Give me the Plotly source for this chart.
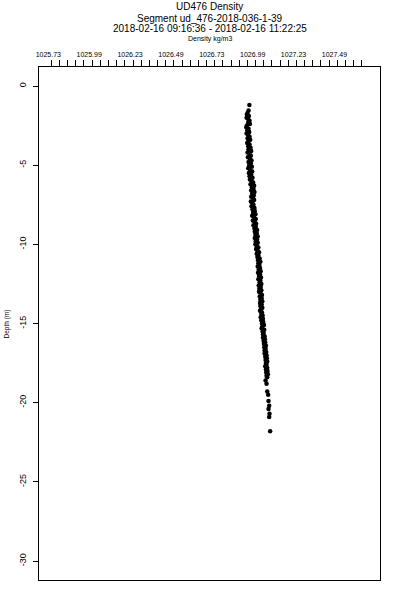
import plotly.graph_objects as go

# ---- data ----
depth = [
    -1.2, -1.55, -1.7,
    -1.8, -1.9, -2.0, -2.1, -2.2, -2.3, -2.4, -2.5, -2.6, -2.7,
    -2.8, -2.9, -3.0, -3.1, -3.2, -3.3, -3.4, -3.5, -3.6, -3.7,
    -3.8, -3.9, -4.0, -4.1, -4.2, -4.3, -4.4, -4.5, -4.6, -4.7,
    -4.8, -4.9, -5.0, -5.1, -5.2, -5.3, -5.4, -5.5, -5.6, -5.7,
    -5.8, -5.9, -6.0, -6.1, -6.2, -6.3, -6.4, -6.5, -6.6, -6.7,
    -6.8, -6.9, -7.0, -7.1, -7.2, -7.3, -7.4, -7.5, -7.6, -7.7,
    -7.8, -7.9, -8.0, -8.1, -8.2, -8.3, -8.4, -8.5, -8.6, -8.7,
    -8.8, -8.9, -9.0, -9.1, -9.2, -9.3, -9.4, -9.5, -9.6, -9.7,
    -9.8, -9.9, -10.0, -10.1, -10.2, -10.3, -10.4, -10.5, -10.6, -10.7,
    -10.8, -10.9, -11.0, -11.1, -11.2, -11.3, -11.4, -11.5, -11.6, -11.7,
    -11.8, -11.9, -12.0, -12.1, -12.2, -12.3, -12.4, -12.5, -12.6, -12.7,
    -12.8, -12.9, -13.0, -13.1, -13.2, -13.3, -13.4, -13.5, -13.6, -13.7,
    -13.8, -13.9, -14.0, -14.1, -14.2, -14.3, -14.4, -14.5, -14.6, -14.7,
    -14.8, -14.9, -15.0, -15.1, -15.2, -15.3, -15.4, -15.5, -15.6, -15.7,
    -15.8, -15.9, -16.0, -16.1, -16.2, -16.3, -16.4, -16.5, -16.6, -16.7,
    -16.8, -16.9, -17.0, -17.1, -17.2, -17.3, -17.4, -17.5, -17.6, -17.7,
    -17.8, -17.9, -18.0, -18.1, -18.2, -18.3, -18.4,
    -18.6, -18.8, -19.3, -19.5, -19.9, -20.2, -20.4, -20.7, -20.9, -21.8,
]

density = [
    1026.965, 1026.960, 1026.954,
    1026.950, 1026.962, 1026.948, 1026.958, 1026.966, 1026.958, 1026.968, 1026.950, 1026.946, 1026.960,
    1026.952, 1026.964, 1026.948, 1026.958, 1026.966, 1026.954, 1026.970, 1026.958, 1026.952, 1026.966,
    1026.958, 1026.972, 1026.960, 1026.976, 1026.954, 1026.966, 1026.974, 1026.956, 1026.968, 1026.978,
    1026.960, 1026.974, 1026.964, 1026.980, 1026.958, 1026.970, 1026.982, 1026.962, 1026.976, 1026.966,
    1026.984, 1026.968, 1026.978, 1026.988, 1026.972, 1026.994, 1026.980, 1026.990, 1026.976, 1026.996,
    1026.982, 1026.992, 1026.976, 1026.988, 1026.994, 1026.974, 1026.984, 1026.990, 1026.978, 1026.996,
    1026.984, 1026.998, 1026.988, 1027.002, 1026.982, 1026.994, 1027.004, 1026.986, 1026.998, 1027.006,
    1026.990, 1027.004, 1026.996, 1027.012, 1026.998, 1027.010, 1027.002, 1027.016, 1026.998, 1027.012,
    1027.004, 1027.016, 1027.002, 1027.010, 1027.020, 1027.006, 1027.014, 1027.024, 1027.010, 1027.020,
    1027.014, 1027.028, 1027.018, 1027.032, 1027.020, 1027.026, 1027.016, 1027.030, 1027.022, 1027.034,
    1027.018, 1027.030, 1027.024, 1027.036, 1027.020, 1027.032, 1027.028, 1027.038, 1027.022, 1027.034,
    1027.026, 1027.038, 1027.024, 1027.034, 1027.042, 1027.028, 1027.040, 1027.032, 1027.044, 1027.030,
    1027.040, 1027.032, 1027.044, 1027.036, 1027.030, 1027.042, 1027.038, 1027.046, 1027.034, 1027.048,
    1027.038, 1027.050, 1027.042, 1027.054, 1027.044, 1027.040, 1027.056, 1027.046, 1027.052, 1027.048,
    1027.058, 1027.048, 1027.060, 1027.052, 1027.062, 1027.054, 1027.066, 1027.056, 1027.064, 1027.058,
    1027.068, 1027.058, 1027.070, 1027.062, 1027.072, 1027.064, 1027.074, 1027.066, 1027.070, 1027.062,
    1027.074, 1027.066, 1027.076, 1027.068, 1027.078, 1027.070, 1027.074,
    1027.064, 1027.070, 1027.074, 1027.080, 1027.082, 1027.086, 1027.082, 1027.088, 1027.086, 1027.092,
]

x_tick_vals = [1025.735, 1025.985, 1026.235, 1026.485, 1026.735, 1026.985, 1027.235, 1027.485]
x_tick_text = ["1025.73", "1025.99", "1026.23", "1026.49", "1026.73", "1026.99", "1027.23", "1027.49"]
y_tick_vals = [0, -5, -10, -15, -20, -25, -30]
y_tick_text = ["0", "-5", "-10", "-15", "-20", "-25", "-30"]

title_lines = [
    "UD476 Density",
    "Segment ud_476-2018-036-1-39",
    "2018-02-16 09:16:36 - 2018-02-16 11:22:25",
]
x_title = "Density kg/m3"
y_title = "Depth (m)"

minor_ticks = [round(1025.753 + 0.05 * k, 4) for k in range(39)]

FONT = "Liberation Sans, Arial, Helvetica, sans-serif"

fig = go.Figure()
fig.add_trace(go.Scatter(
    x=density, y=depth, mode="markers",
    marker=dict(color="black", size=4.5, line=dict(width=0)),
    showlegend=False, hoverinfo="skip",
))

fig.update_layout(
    width=400, height=600,
    margin=dict(l=39, r=20, t=67, b=20, pad=0, autoexpand=False),
    paper_bgcolor="white", plot_bgcolor="white",
    font=dict(family=FONT, color="black", size=7),
    xaxis=dict(
        side="top", range=[1025.678, 1027.764], automargin=False,
        showline=True, linecolor="black", linewidth=1, mirror=True,
        showgrid=False, zeroline=False,
        tickmode="array", tickvals=x_tick_vals, ticktext=x_tick_text,
        ticks="outside", ticklen=6, tickcolor="rgba(0,0,0,0)",
        tickfont=dict(size=7, family=FONT, color="black"),
        minor=dict(tickmode="array", tickvals=minor_ticks, ticks="outside",
                   ticklen=6, tickwidth=1, tickcolor="black", showgrid=False),
    ),
    yaxis=dict(
        range=[-31.2, 1.2], automargin=False,
        showline=True, linecolor="black", linewidth=1, mirror=True,
        showgrid=False, zeroline=False,
        tickmode="array", tickvals=y_tick_vals, ticktext=y_tick_text,
        ticks="outside", ticklen=5, tickcolor="black", tickwidth=1,
        tickangle=-90, ticklabelstandoff=3,
        tickfont=dict(size=9, family=FONT, color="black"),
    ),
)

# paper coords: y=1 at 67 px, y=0 at 580 px (513 px tall)
title_y = [1.1179, 1.0955, 1.0741]
for txt, yy in zip(title_lines, title_y):
    fig.add_annotation(text=txt, x=0.5, y=yy, xref="paper", yref="paper",
                       xanchor="center", yanchor="middle", showarrow=False,
                       font=dict(size=10, family=FONT, color="black"))
fig.add_annotation(text=x_title, x=0.5, y=1.0555, xref="paper", yref="paper",
                   xanchor="center", yanchor="middle", showarrow=False,
                   font=dict(size=7, family=FONT, color="black"))
fig.add_annotation(text=y_title, x=-0.094, y=0.5, xref="paper", yref="paper",
                   xanchor="center", yanchor="middle", showarrow=False, textangle=-90,
                   font=dict(size=6.5, family=FONT, color="black"))

fig.write_html(
    "out.html",
    config={"displayModeBar": False},
    post_script="document.body.style.margin='0';document.body.style.padding='0';",
)
